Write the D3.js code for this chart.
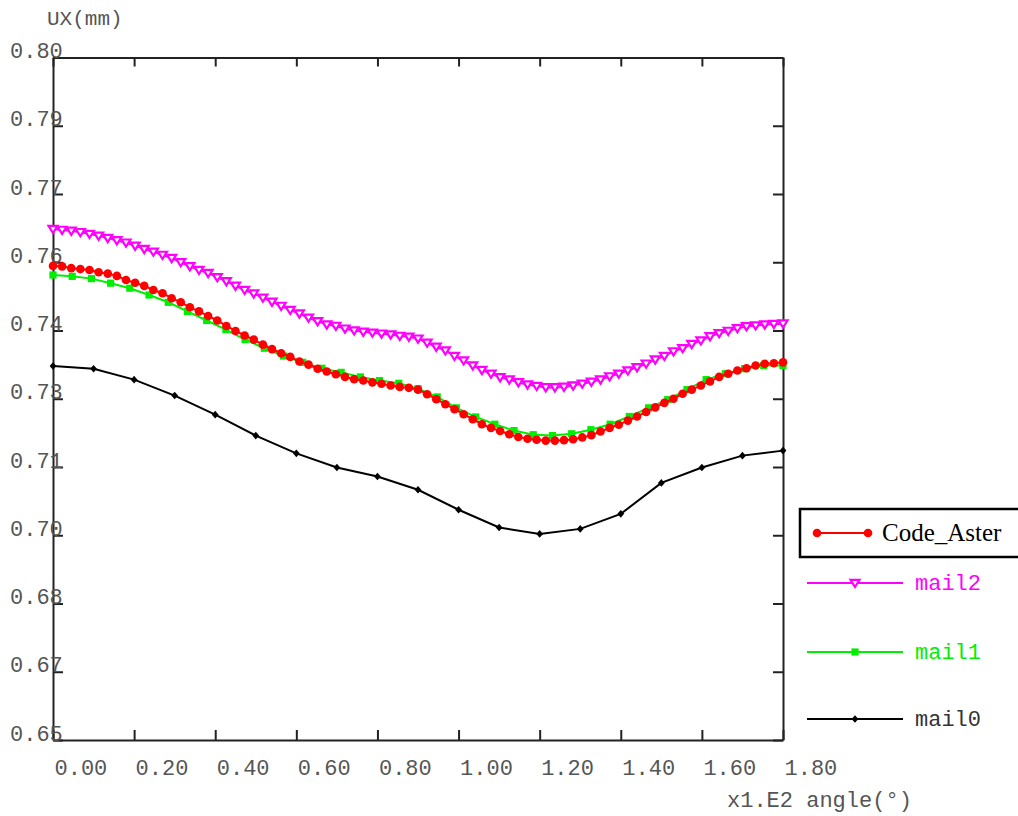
<!DOCTYPE html>
<html>
<head>
<meta charset="utf-8">
<script src="https://cdn.jsdelivr.net/npm/d3@7"></script>
<style>
  body { margin: 0; background: #fff; }
</style>
</head>
<body>
<div id="chart"></div>
<script>
// data (UX in mm, angle in units of 100 degrees)
const xTicks = [0, 0.2, 0.4, 0.6, 0.8, 1.0, 1.2, 1.4, 1.6, 1.8]
const xTickLabels = ["0.00", "0.20", "0.40", "0.60", "0.80", "1.00", "1.20", "1.40", "1.60", "1.80"]
const yTicks = [0.65, 0.665, 0.68, 0.695, 0.71, 0.725, 0.74, 0.755, 0.77, 0.785, 0.80]
const yTickLabels = ["0.65", "0.67", "0.68", "0.70", "0.71", "0.73", "0.74", "0.76", "0.77", "0.79", "0.80"]

// sampling step of each curve along the angle axis
const stepFine = 0.0225   // Code_Aster and mail2
const stepMail1 = 1.8 / 38
const stepMail0 = 0.1

const codeAster = [
  0.7542, 0.7541, 0.7537, 0.7535, 0.7533, 0.7528, 0.7525, 0.7520, 0.7511, 0.7505,
  0.7498, 0.7489, 0.7482, 0.7471, 0.7462, 0.7451, 0.7442, 0.7432, 0.7422, 0.7410,
  0.7399, 0.7389, 0.7380, 0.7369, 0.7359, 0.7350, 0.7342, 0.7332, 0.7325, 0.7316,
  0.7310, 0.7304, 0.7298, 0.7293, 0.7290, 0.7286, 0.7283, 0.7279, 0.7276, 0.7274,
  0.7270, 0.7260, 0.7249, 0.7238, 0.7227, 0.7216, 0.7205, 0.7194, 0.7186, 0.7179,
  0.7172, 0.7166, 0.7162, 0.7160, 0.7158, 0.7158, 0.7159, 0.7161, 0.7165, 0.7170,
  0.7178, 0.7186, 0.7193, 0.7202, 0.7211, 0.7221, 0.7231, 0.7241, 0.7250, 0.7261,
  0.7270, 0.7279, 0.7288, 0.7298, 0.7305, 0.7312, 0.7317, 0.7323, 0.7327, 0.7328,
  0.7330
]
const mail2 = [
  0.7623, 0.7621, 0.7619, 0.7616, 0.7612, 0.7608, 0.7603, 0.7598, 0.7593, 0.7586,
  0.7579, 0.7573, 0.7566, 0.7559, 0.7550, 0.7541, 0.7533, 0.7526, 0.7517, 0.7508,
  0.7498, 0.7489, 0.7481, 0.7472, 0.7463, 0.7454, 0.7445, 0.7437, 0.7428, 0.7420,
  0.7413, 0.7410, 0.7404, 0.7400, 0.7397, 0.7395, 0.7393, 0.7391, 0.7388, 0.7386,
  0.7382, 0.7373, 0.7364, 0.7356, 0.7344, 0.7334, 0.7323, 0.7313, 0.7305, 0.7297,
  0.7292, 0.7286, 0.7281, 0.7278, 0.7275, 0.7275, 0.7276, 0.7279, 0.7283, 0.7287,
  0.7292, 0.7299, 0.7305, 0.7312, 0.7319, 0.7327, 0.7336, 0.7344, 0.7354, 0.7361,
  0.7370, 0.7378, 0.7387, 0.7394, 0.7399, 0.7405, 0.7409, 0.7411, 0.7413, 0.7414,
  0.7415
]
const mail1 = [
  0.7522, 0.7519, 0.7514, 0.7504, 0.7493, 0.7478, 0.7462, 0.7442, 0.7422, 0.7402,
  0.7380, 0.7361, 0.7344, 0.7330, 0.7317, 0.7308, 0.7298, 0.7290, 0.7284, 0.7272,
  0.7254, 0.7230, 0.7210, 0.7194, 0.7180, 0.7171, 0.7169, 0.7173, 0.7182, 0.7194,
  0.7211, 0.7230, 0.7248, 0.7270, 0.7292, 0.7305, 0.7316, 0.7323, 0.7323
]
const mail0 = [
  0.7322, 0.7316, 0.7292, 0.7257, 0.7215, 0.7169, 0.7130, 0.7099, 0.7079, 0.7050,
  0.7006, 0.6967, 0.6953, 0.6964, 0.6997, 0.7065, 0.7099, 0.7125, 0.7136
]

const mono = "'Liberation Mono', 'Courier New', monospace"
const serif = "'Liberation Serif', 'Times New Roman', serif"

const W = 1018, H = 816
const plot = { left: 53, right: 783, top: 57.5, bottom: 740 }

const svg = d3.select("#chart").append("svg")
    .attr("width", W)
    .attr("height", H)

svg.append("rect").attr("width", W).attr("height", H).attr("fill", "#fff")

const x = d3.scaleLinear().domain([0, 1.8]).range([plot.left, plot.right])
const y = d3.scaleLinear().domain([0.65, 0.80]).range([plot.bottom, plot.top])

// series: name, values, step, colour, marker
const series = [
  { name: "mail0", values: mail0, step: stepMail0, color: "#000000", marker: "diamond" },
  { name: "mail1", values: mail1, step: stepMail1, color: "#00ee00", marker: "square" },
  { name: "mail2", values: mail2, step: stepFine, color: "#ff00ff", marker: "triangle" },
  { name: "Code_Aster", values: codeAster, step: stepFine, color: "#ff0000", marker: "circle" }
]

const line = d3.line().x(d => x(d[0])).y(d => y(d[1]))

function drawMarker(g, type, color) {
  if (type === "circle") {
    g.append("circle").attr("r", 4.3).attr("fill", color)
  } else if (type === "square") {
    g.append("rect").attr("x", -3.6).attr("y", -3.6).attr("width", 7.2).attr("height", 7.2).attr("fill", color)
  } else if (type === "triangle") {
    g.append("path").attr("d", "M-4.5,-3.2L4.5,-3.2L0,4Z")
      .attr("fill", "#fff").attr("stroke", color).attr("stroke-width", 2.2)
  } else {
    g.append("path").attr("d", "M0,-3.8L3.4,0L0,3.8L-3.4,0Z").attr("fill", color)
  }
}

// frame with inward ticks on all four sides
const axisG = svg.append("g").attr("class", "axes")

axisG.append("g")
    .attr("transform", "translate(0," + plot.bottom + ")")
    .call(d3.axisBottom(x).tickValues(xTicks).tickSizeInner(-10).tickSizeOuter(0)
      .tickFormat((d, i) => xTickLabels[i]))
    .call(g => g.selectAll("text")
      .attr("y", 35).attr("dy", null).attr("x", 1)
      .style("text-anchor", "start"))

axisG.append("g")
    .attr("transform", "translate(0," + plot.top + ")")
    .call(d3.axisTop(x).tickValues(xTicks).tickSizeInner(-9).tickSizeOuter(0).tickFormat(""))

axisG.append("g")
    .attr("transform", "translate(" + plot.right + ",0)")
    .call(d3.axisRight(y).tickValues(yTicks).tickSizeInner(-10).tickSizeOuter(0).tickFormat(""))

axisG.append("g")
    .attr("transform", "translate(" + plot.left + ",0)")
    .call(d3.axisLeft(y).tickValues(yTicks).tickSizeInner(-10).tickSizeOuter(0)
      .tickFormat((d, i) => yTickLabels[i]))
    .call(g => g.selectAll("text")
      .attr("x", 10 - plot.left).attr("dy", null).attr("y", 0)
      .style("text-anchor", "start"))

axisG.selectAll(".domain, .tick line")
    .attr("stroke", "#222")
    .attr("stroke-width", 2)

axisG.selectAll("text")
    .attr("fill", "#555")
    .style("font-family", mono)
    .style("font-size", "22px")

// curves
series.forEach(s => {
  const pts = s.values.map((v, i) => [i * s.step, v])
  const g = svg.append("g").attr("class", "series " + s.name)
  g.append("path")
    .datum(pts)
    .attr("fill", "none")
    .attr("stroke", s.color)
    .attr("stroke-width", 2)
    .attr("d", line)
  g.selectAll("g.mk")
    .data(pts)
    .enter()
    .append("g")
    .attr("class", "mk")
    .attr("transform", d => "translate(" + x(d[0]) + "," + y(d[1]) + ")")
    .each(function () { drawMarker(d3.select(this), s.marker, s.color) })
})

// axis titles
svg.append("text")
    .text("UX(mm)")
    .attr("x", 47)
    .attr("y", 25)
    .attr("fill", "#555")
    .style("font-family", mono)
    .style("font-size", "21px")

svg.append("text")
    .text("x1.E2 angle(°)")
    .attr("x", 727)
    .attr("y", 807)
    .attr("fill", "#555")
    .style("font-family", mono)
    .style("font-size", "22px")

// legend
const legend = svg.append("g").attr("class", "legend")

legend.append("rect")
    .attr("x", 800).attr("y", 509)
    .attr("width", 240).attr("height", 48)
    .attr("fill", "#fff")
    .attr("stroke", "#000")
    .attr("stroke-width", 2.5)

legend.append("line")
    .attr("x1", 817).attr("x2", 868).attr("y1", 533).attr("y2", 533)
    .attr("stroke", "#ff0000").attr("stroke-width", 2)
legend.append("g").attr("transform", "translate(817,533)").call(g => drawMarker(g, "circle", "#ff0000"))
legend.append("g").attr("transform", "translate(868,533)").call(g => drawMarker(g, "circle", "#ff0000"))
legend.append("text")
    .text("Code_Aster")
    .attr("x", 882).attr("y", 541)
    .attr("fill", "#000")
    .style("font-family", serif)
    .style("font-size", "25px")

const legendRows = [
  { s: series[2], y: 583 },
  { s: series[1], y: 652 },
  { s: series[0], y: 719 }
]
legendRows.forEach(r => {
  legend.append("line")
      .attr("x1", 807).attr("x2", 903).attr("y1", r.y).attr("y2", r.y)
      .attr("stroke", r.s.color).attr("stroke-width", 2)
  legend.append("g").attr("transform", "translate(855," + r.y + ")")
      .call(g => drawMarker(g, r.s.marker, r.s.color))
  legend.append("text")
      .text(r.s.name)
      .attr("x", 915).attr("y", r.y + 7)
      .attr("fill", r.s.name === "mail0" ? "#333" : r.s.color)
      .style("font-family", mono)
      .style("font-size", "22px")
})
</script>
</body>
</html>
